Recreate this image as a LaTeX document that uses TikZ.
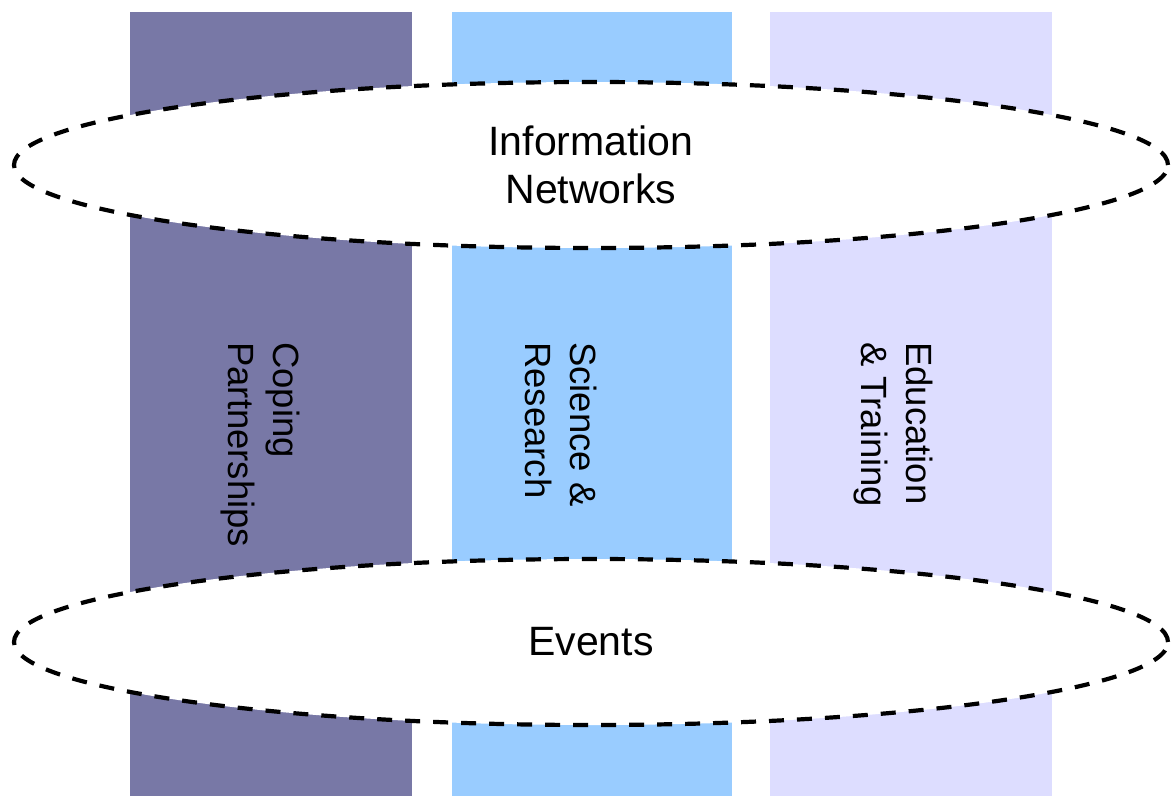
\documentclass[tikz,border=0pt]{standalone}
\usepackage{fontspec}
\setmainfont{Liberation Sans}
\usetikzlibrary{shapes.geometric}
\definecolor{colA}{RGB}{120,120,166}
\definecolor{colB}{RGB}{153,204,255}
\definecolor{colC}{RGB}{221,221,255}
\begin{document}
\begin{tikzpicture}[x=1pt,y=-1pt,
  ring/.style={ellipse, draw=black, line width=4.2pt, dash pattern=on 15pt off 13pt,
    fill=white, inner sep=0pt, minimum width=1154pt, minimum height=166pt,
    align=center, font=\fontsize{41}{48}\selectfont},
  vlabel/.style={rotate=-90, anchor=north west, inner sep=0pt, align=left,
    font=\fontsize{36.5}{45}\selectfont}]
\useasboundingbox (0,0) rectangle (1173,796);
\fill[white] (0,0) rectangle (1173,796);
\fill[colA] (130,12) rectangle (412,796);
\fill[colB] (452,12) rectangle (732,796);
\fill[colC] (770,12) rectangle (1052,796);
\node[ring] (info) at (591,165) {Information\\Networks};
\node[ring] (events) at (591,642) {Events};
\node[vlabel] (coping) at (300,342) {Coping\\Partnerships};
\node[vlabel] (science) at (597,342) {Science \&\\Research};
\node[vlabel] (education) at (933,342) {Education\\\& Training};
\end{tikzpicture}
\end{document}
